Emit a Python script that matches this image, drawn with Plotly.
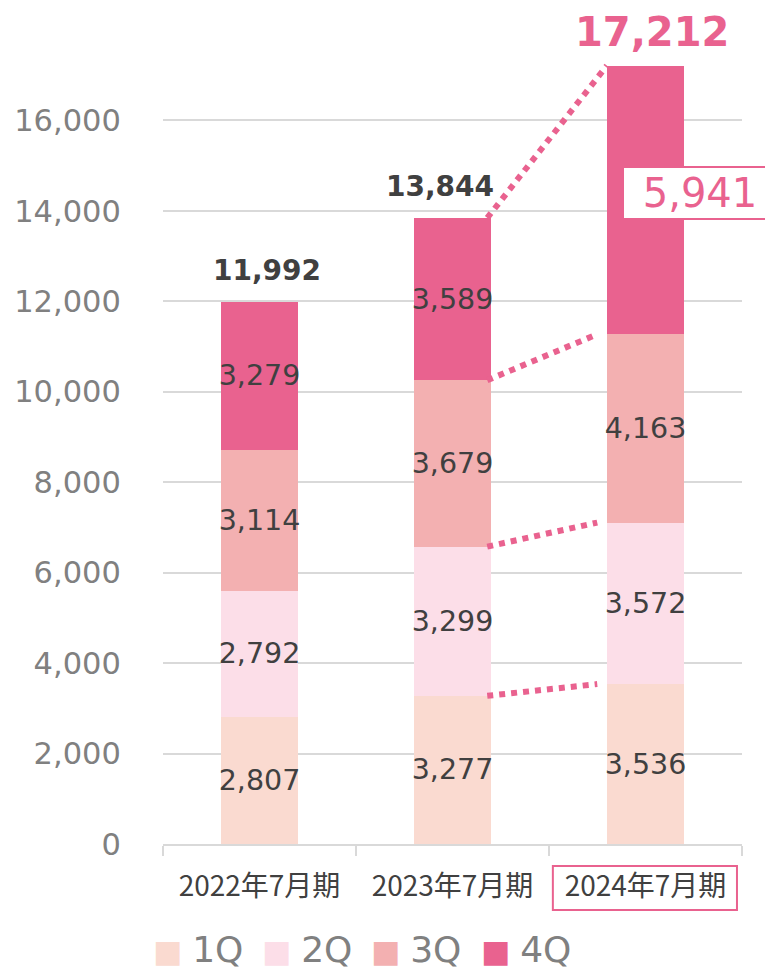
import plotly.graph_objects as go

years = ["2022年7月期", "2023年7月期", "2024年7月期"]
series = ["1Q", "2Q", "3Q", "4Q"]
q1 = [2807, 3277, 3536]
q2 = [2792, 3299, 3572]
q3 = [3114, 3679, 4163]
q4 = [3279, 3589, 5941]
totals = [11992, 13844, 17212]
yticks = [0, 2000, 4000, 6000, 8000, 10000, 12000, 14000, 16000]

colors = ["#FADAD0", "#FCDEE8", "#F3B0B1", "#E9628F"]
PINK = "#E9628F"
DARK = "#404040"
GRAY = "#808080"
NUM_FONT = "DejaVu Sans, Verdana, sans-serif"
CJK_FONT = "Noto Sans CJK JP, DejaVu Sans, sans-serif"

# page body adds an 8px offset; figure sized so plot area lands as in reference
W, H = 765, 963
L, T = 155, 22
PW, PH = 579, 814.5

values = [q1, q2, q3, q4]
fig = go.Figure()
for si, (name, vals, col) in enumerate(zip(series, values, colors)):
    texts = [f"{v:,}" for v in vals]
    if si == 3:
        texts[2] = ""  # shown in the callout box instead
    fig.add_trace(go.Bar(
        x=years, y=vals, name=name, marker=dict(color=col, line=dict(width=0)),
        width=0.4, text=texts, textposition="inside", insidetextanchor="middle",
        textangle=0, constraintext="none",
        textfont=dict(family=NUM_FONT, size=28.5, color=DARK),
        hoverinfo="skip", showlegend=False,
    ))

# totals
total_xshift = [7, -13, 6]
for i, t in enumerate(totals):
    last = i == len(totals) - 1
    fig.add_annotation(
        x=i, y=t, xref="x", yref="y", text=f"<b>{t:,}</b>", showarrow=False,
        yanchor="bottom", yshift=9 if last else 13, xshift=total_xshift[i],
        font=dict(family=NUM_FONT, size=40 if last else 28, color=PINK if last else DARK),
    )

# callout for 2024 4Q
fig.add_annotation(
    x=2.28, y=14400, xref="x", yref="y", text=f"{q4[2]:,}", showarrow=False,
    xanchor="center", yanchor="middle", width=150, height=48, borderpad=1,
    bgcolor="white", bordercolor=PINK, borderwidth=2,
    font=dict(family=NUM_FONT, size=40, color=PINK),
)

# dotted connectors between 2023 and 2024
cum23, cum24 = [], []
a = b = 0
for vals in values:
    a += vals[1]; b += vals[2]
    cum23.append(a); cum24.append(b)
for k in range(4):
    top = k == 3
    fig.add_shape(
        type="line", xref="x", yref="y",
        x0=1.18, y0=cum23[k], x1=1.8 if top else 1.75, y1=cum24[k],
        line=dict(color=PINK, width=6, dash="dot"), layer="above",
    )

# box around 2024 label
fig.add_shape(type="rect", xref="x", yref="paper", x0=1.52, x1=2.474,
              y0=-0.081, y1=-0.027, line=dict(color=PINK, width=2),
              fillcolor="rgba(0,0,0,0)")

# legend built from series
leg_x = [151, 260, 369, 479]
for name, col, px in zip(series, colors, leg_x):
    fig.add_annotation(
        x=(px - 163) / PW, y=-0.130, xref="paper", yref="paper",
        xanchor="left", yanchor="middle", showarrow=False,
        text=f"<span style='color:{col};font-size:31px'>■ </span>{name}",
        font=dict(family=NUM_FONT, size=36, color=GRAY),
    )

fig.update_layout(
    barmode="stack", bargap=0.6,
    width=W, height=H,
    margin=dict(l=L, r=W - L - PW, t=T, b=H - T - PH, autoexpand=False),
    paper_bgcolor="white", plot_bgcolor="white",
    separators=".,", showlegend=False,
)
fig.update_yaxes(
    range=[0, 18000], tickvals=yticks, ticktext=[f"{v:,}" for v in yticks],
    showgrid=True, gridcolor="#D9D9D9", gridwidth=1.5, zeroline=False,
    ticks="outside", ticklen=35, tickcolor="rgba(0,0,0,0)",
    tickfont=dict(family=NUM_FONT, size=30.5, color=GRAY), showline=False,
)
fig.update_xaxes(
    type="category", range=[-0.5, 2.5], showline=True, linecolor="#D9D9D9", linewidth=2,
    ticks="outside", tickson="boundaries", ticklen=10, tickcolor="#D9D9D9", tickwidth=2,
    ticklabelstandoff=16,
    tickfont=dict(family=CJK_FONT, size=28, color=DARK), showgrid=False,
)
fig.write_html("out.html")
